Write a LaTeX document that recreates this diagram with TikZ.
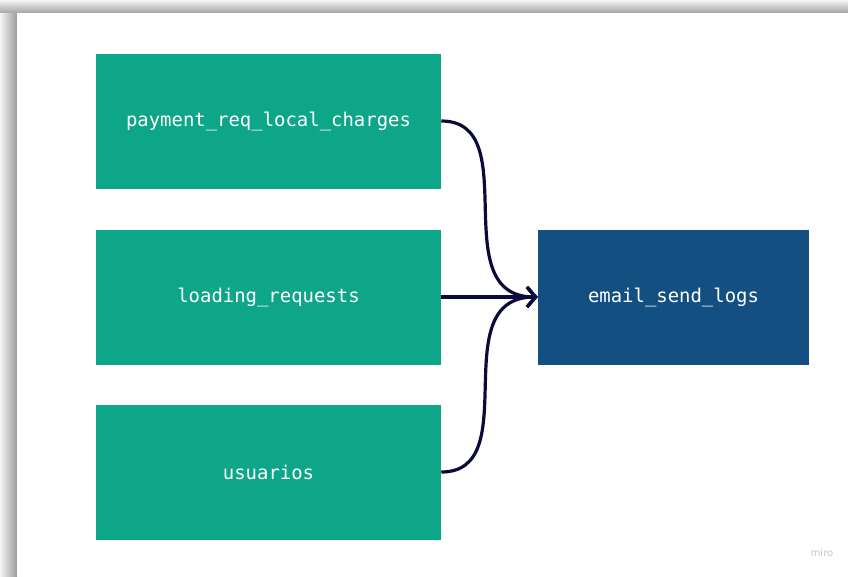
\documentclass[tikz,border=0pt]{standalone}
\usepackage{fontspec}
\setmonofont{DejaVu Sans Mono}
\setsansfont{DejaVu Sans}
\usetikzlibrary{arrows.meta,shadings,calc}
\definecolor{tablegreen}{HTML}{0EA688}
\definecolor{tableblue}{HTML}{134F80}
\definecolor{linknavy}{HTML}{0B0B3B}
\tikzset{
  tablebox/.style={draw=none, fill=tablegreen, minimum width=345*0.75pt, minimum height=135*0.75pt, inner sep=0pt,
    text=white, font=\ttfamily\fontsize{14.2}{17}\selectfont},
  targetbox/.style={tablebox, fill=tableblue, minimum width=271*0.75pt},
  link/.style={draw=linknavy, line width=2.4pt, -{Straight Barb[length=6.5pt,width=15pt]}}
}
\begin{document}
\begin{tikzpicture}[x=0.75pt,y=-0.75pt]
\useasboundingbox (0,0) rectangle (848,576);
\fill[white] (0,0) rectangle (848,576);
% shadow of the board
\shade[top color=gray!8, bottom color=gray!72] (0,0) rectangle (848,13);
\shade[left color=gray!8, right color=gray!78] (0,13) rectangle (17,576);
\fill[white] (17,13) rectangle (848,576);
% nodes
\node[tablebox] (pay) at (268.5,121) {payment\_req\_local\_charges};
\node[tablebox] (load) at (268.5,297) {loading\_requests};
\node[tablebox] (usu) at (268.5,472) {usuarios};
\node[targetbox] (mail) at (673.5,297) {email\_send\_logs};
% connectors
\draw[link] (pay.east) .. controls ($(pay.east)+(85,0)$) and ($(mail.west)+(-95,0)$) .. (mail.west);
\draw[link] (usu.east) .. controls ($(usu.east)+(85,0)$) and ($(mail.west)+(-95,0)$) .. (mail.west);
\draw[link] (load.east) -- (mail.west);
% watermark
\node[text=gray!45, font=\sffamily\fontsize{7.5}{9}\selectfont] (miro) at (822,553) {miro};
\end{tikzpicture}
\end{document}
